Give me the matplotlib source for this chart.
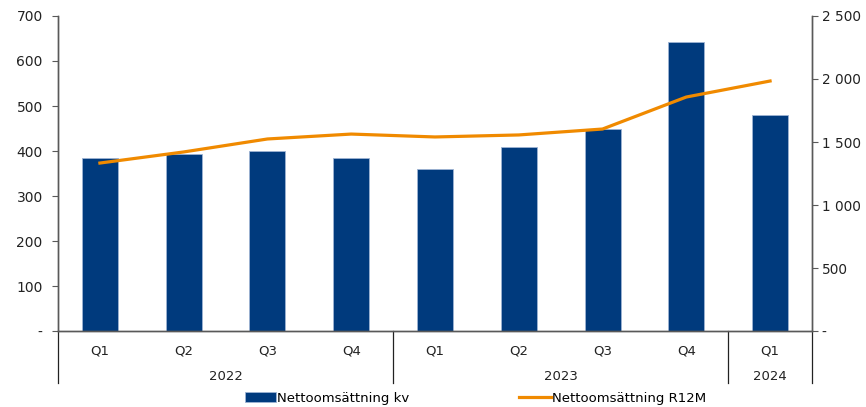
import matplotlib.pyplot as plt
import matplotlib.transforms as mtransforms
from matplotlib.ticker import FuncFormatter

# Data
quarters = ["Q1", "Q2", "Q3", "Q4", "Q1", "Q2", "Q3", "Q4", "Q1"]
years = ["2022", "2023", "2024"]
year_counts = [4, 4, 1]
sales_quarter = [384, 394, 400, 384, 360, 409, 449, 642, 479]
sales_r12m = [1333, 1421, 1524, 1563, 1540, 1556, 1603, 1857, 1984]

bar_color = "#003A7D"
line_color = "#F08A00"
axis_color = "#595959"

plt.rcParams["font.family"] = ["DejaVu Sans"]

fig = plt.figure(figsize=(8.66, 4.07), dpi=100)
ax = fig.add_axes([0.067, 0.1867, 0.8706, 0.774])
ax2 = ax.twinx()

x = list(range(len(quarters)))
bars = ax.bar(x, sales_quarter, width=0.43, color=bar_color,
              edgecolor="#9DB3D3", linewidth=0.6, label="Nettoomsättning kv", zorder=2)
line, = ax2.plot(x, sales_r12m, color=line_color, linewidth=2.3,
                 label="Nettoomsättning R12M", zorder=3)

ax.set_xlim(-0.5, len(quarters) - 0.5)
ax.set_ylim(0, 700)
ax2.set_ylim(0, 2500)
ax.set_yticks(range(0, 701, 100))
ax2.set_yticks(range(0, 2501, 500))


def fmt(v, pos):
    if v == 0:
        return "-"
    return f"{int(v):,}".replace(",", " ")


ax.yaxis.set_major_formatter(FuncFormatter(fmt))
ax2.yaxis.set_major_formatter(FuncFormatter(fmt))

for a in (ax, ax2):
    a.spines["top"].set_visible(False)
    for s in a.spines.values():
        s.set_color(axis_color)
        s.set_linewidth(1)
ax.tick_params(axis="y", colors="#222222", labelsize=10, length=4,
               color=axis_color, pad=7)
ax2.tick_params(axis="y", colors="#222222", labelsize=9.8, length=4,
                color=axis_color, pad=3)

ax.set_xticks(x)
ax.set_xticklabels(quarters, fontsize=9.5, color="#222222")
ax.tick_params(axis="x", length=0, pad=10)

# group separators and year labels
trans = mtransforms.blended_transform_factory(ax.transData, ax.transAxes)
bounds = [-0.5]
for c in year_counts:
    bounds.append(bounds[-1] + c)
for b in bounds:
    ax.plot([b, b], [0, -0.165], transform=trans, color="#222222",
            linewidth=0.9, clip_on=False)
for i, yr in enumerate(years):
    center = (bounds[i] + bounds[i + 1]) / 2
    ax.text(center, -0.145, yr, transform=trans, ha="center", va="center",
            fontsize=9.5, color="#222222")

fig.legend([bars, line], ["Nettoomsättning kv", "Nettoomsättning R12M"],
           loc="center", bbox_to_anchor=(0.549, 0.022), ncol=2, frameon=False,
           fontsize=9.5, handlelength=2.4, handletextpad=0.1, columnspacing=8.3,
           handleheight=0.9)

fig.savefig("out.png", dpi=100)
